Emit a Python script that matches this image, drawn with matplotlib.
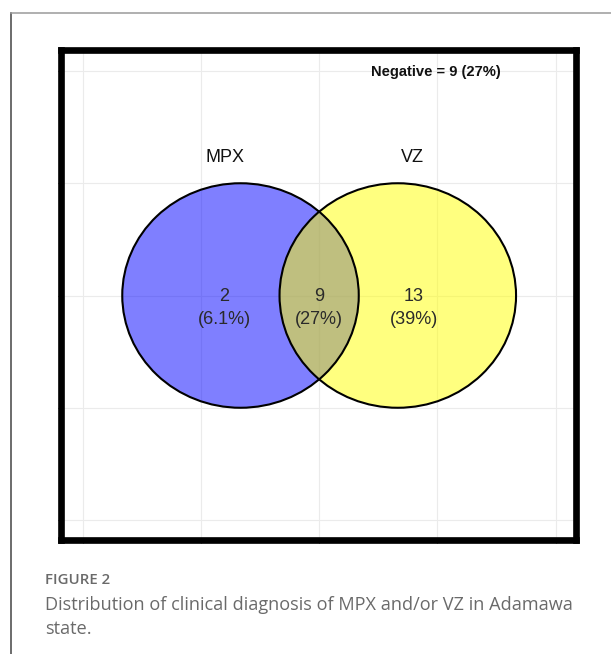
import matplotlib
matplotlib.use("Agg")
import matplotlib.pyplot as plt
from matplotlib.patches import Ellipse
from matplotlib.lines import Line2D

# Data
set_names = ["MPX", "VZ"]
region_counts = [2, 9, 13]            # MPX only, both, VZ only
region_pcts = ["6.1%", "27%", "39%"]
negative_count = 9
negative_pct = "27%"

fig = plt.figure(figsize=(6.11, 6.54), dpi=100)

# page border (journal layout)
fig.add_artist(Line2D([0.018, 0.018], [0, 1 - 12.5 / 654], color="#444444", lw=1.1))
fig.add_artist(Line2D([0.018, 1.0], [1 - 12.5 / 654] * 2, color="#9a9a9a", lw=1.1))

ax = fig.add_axes([61 / 611, 1 - 540 / 654, 515 / 611, 490 / 654])
ax.set_xlim(-0.183, 4.172)
ax.set_ylim(-0.178, 4.187)
ax.set_xticks([0, 1, 2, 3, 4])
ax.set_yticks([0, 1, 2, 3, 4])
ax.set_xticklabels([])
ax.set_yticklabels([])
ax.tick_params(length=2.5, width=0.8, color="#333333")
ax.grid(True, color="#ebebeb", lw=0.8)
ax.set_axisbelow(True)
for s in ax.spines.values():
    s.set_linewidth(4.8)
    s.set_color("black")

# circles
centers = [1.335, 2.665]
colors = ["#0000ff", "#ffff00"]
for cx, col in zip(centers, colors):
    ax.add_patch(Ellipse((cx, 2.0), 2.0, 2.0, facecolor=col, alpha=0.5,
                         edgecolor="none", zorder=2))
for cx in centers:
    ax.add_patch(Ellipse((cx, 2.0), 2.0, 2.0, facecolor="none",
                         edgecolor="black", lw=1.5, zorder=3))

font = "Liberation Sans"
label_x = [1.20, 2.0, 2.80]
for x, n, p in zip(label_x, region_counts, region_pcts):
    ax.text(x, 1.89, f"{n}\n({p})", ha="center", va="center", fontsize=13,
            family=font, color="#2a2a2a", linespacing=1.5, zorder=4)

for x, name in zip([1.20, 2.79], set_names):
    ax.text(x, 3.23, name, ha="center", va="center", fontsize=13,
            family=font, color="#111111")

ax.text(2.99, 3.99, f"Negative = {negative_count} ({negative_pct})",
        ha="center", va="center", fontsize=10.6, family=font,
        fontweight="bold", color="#111111")

# caption
fig.text(45 / 611, 1 - 580 / 654, "FIGURE 2", ha="left", va="center",
         fontsize=10.8, family="Open Sans", fontweight="semibold",
         color="#6a6a6a")
fig.text(45 / 611, 1 - 617 / 654,
         "Distribution of clinical diagnosis of MPX and/or VZ in Adamawa\nstate.",
         ha="left", va="center", fontsize=13.1, family="Open Sans",
         color="#6a6a6a", linespacing=1.4)

fig.savefig("out.png", dpi=100)
